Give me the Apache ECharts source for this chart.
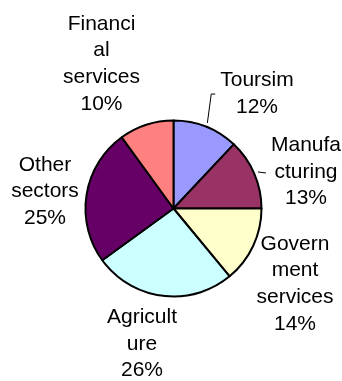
<!DOCTYPE html>
<html>
<head>
<meta charset="utf-8">
<script src="https://cdn.jsdelivr.net/npm/echarts@6/dist/echarts.min.js"></script>
<style>
  html, body { margin: 0; padding: 0; background: #ffffff; }
  #chart { width: 342px; height: 381px; }
</style>
</head>
<body>
<div id="chart"></div>
<script>
// Sector names as they are wrapped on the chart, clockwise from 12 o'clock
const categories = [
  'Toursim',
  'Manufa\ncturing',
  'Govern\nment\nservices',
  'Agricult\nure',
  'Other\nsectors',
  'Financi\nal\nservices'
];
// Share of each sector, percent
const shares = [12, 13, 14, 26, 25, 10];
const colors = ['#9999FF', '#993366', '#FFFFCC', '#CCFFFF', '#660066', '#FF8080'];

// Pie geometry
const CX = 173.5, CY = 208.5, R = 88;
// Centre of each label block
const labelPos = [[257, 94], [306, 172], [295, 284], [142, 344], [45, 191.5], [101.5, 64]];
// Which labels get a leader line, and its style: 'elbow' or 'straight'
const leaders = ['elbow', 'straight', null, null, null, null];

const chart = echarts.init(document.getElementById('chart'), null, { renderer: 'canvas' });

chart.setOption({
  animation: false,
  backgroundColor: '#ffffff',
  series: [{
    type: 'pie',
    center: [CX, CY],
    radius: R,
    startAngle: 90,
    clockwise: true,
    avoidLabelOverlap: false,
    itemStyle: { borderColor: '#000000', borderWidth: 2 },
    emphasis: { disabled: true },
    label: {
      show: true,
      position: 'outside',
      formatter: function (p) { return p.name + '\n' + p.value + '%'; },
      color: '#000000',
      fontFamily: 'Liberation Sans, Arial, sans-serif',
      fontSize: 21,
      lineHeight: 26.7,
      align: 'center'
    },
    labelLine: {
      show: true,
      length: 10,
      length2: 5,
      lineStyle: { color: '#000000', width: 1 }
    },
    labelLayout: function (params) {
      const i = params.dataIndex;
      const pos = labelPos[i];
      const out = { x: pos[0], y: pos[1], align: 'center', verticalAlign: 'middle' };
      const kind = leaders[i];
      if (kind && params.labelLinePoints) {
        const p0 = params.labelLinePoints[0];
        const dx = p0[0] - CX, dy = p0[1] - CY;
        const d = Math.sqrt(dx * dx + dy * dy);
        const start = [p0[0] + dx / d * 4, p0[1] + dy / d * 4];
        const left = pos[0] - params.labelRect.width / 2;
        if (kind === 'elbow') {
          out.labelLinePoints = [start, [left - 9, pos[1]], [left - 5, pos[1]]];
        } else {
          out.labelLinePoints = [start, [left - 5, pos[1] + 1], [left - 5, pos[1] + 1]];
        }
      }
      return out;
    },
    data: categories.map(function (name, i) {
      return {
        name: name,
        value: shares[i],
        itemStyle: { color: colors[i] },
        labelLine: { show: !!leaders[i] }
      };
    })
  }]
});
</script>
</body>
</html>
